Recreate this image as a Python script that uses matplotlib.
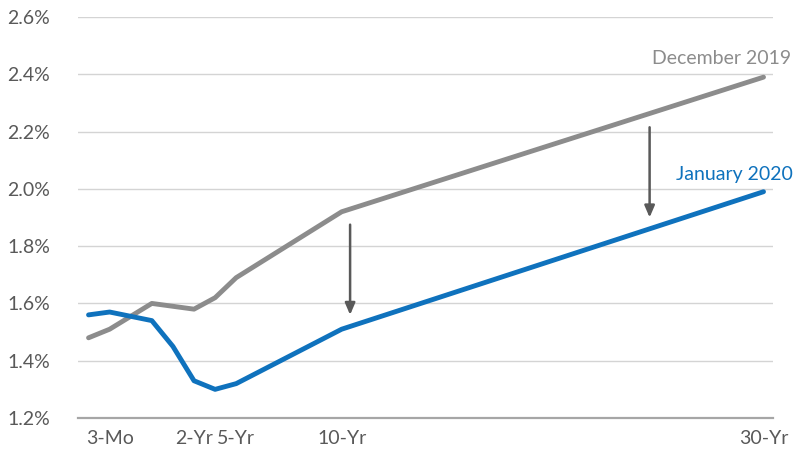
import matplotlib
matplotlib.use("Agg")
import matplotlib.pyplot as plt
from matplotlib.ticker import FuncFormatter

# Data
positions = [0, 1, 3, 4, 5, 6, 7, 12, 32]
dec_2019 = [1.48, 1.51, 1.60, 1.59, 1.58, 1.62, 1.69, 1.92, 2.39]
jan_2020 = [1.56, 1.57, 1.54, 1.45, 1.33, 1.30, 1.32, 1.51, 1.99]
tick_pos = [1, 5, 7, 12, 32]
tick_labels = ["3-Mo", "2-Yr", "5-Yr", "10-Yr", "30-Yr"]
y_ticks = [1.2, 1.4, 1.6, 1.8, 2.0, 2.2, 2.4, 2.6]

plt.rcParams['font.family'] = ['Lato', 'DejaVu Sans']

GRAY = "#8c8c8c"
BLUE = "#0f72bd"
TEXT = "#595959"

fig = plt.figure(figsize=(8.09, 4.51), dpi=100)
ax = fig.add_axes([78/809, 1-418/451, (773-78)/809, (418-17)/451])

ax.plot(positions, dec_2019, color=GRAY, lw=3.5, solid_capstyle='round', solid_joinstyle='round', zorder=3)
ax.plot(positions, jan_2020, color=BLUE, lw=3.5, solid_capstyle='round', solid_joinstyle='round', zorder=3)

ax.set_xlim(-0.5, 32.45)
ax.set_ylim(1.2, 2.6)
ax.set_yticks(y_ticks)
ax.yaxis.set_major_formatter(FuncFormatter(lambda v, p: f"{v:.1f}%"))
ax.set_xticks(tick_pos)
ax.set_xticklabels(tick_labels)
ax.grid(axis='y', color="#d4d4d4", lw=1)
ax.set_axisbelow(True)
for s in ['top', 'right', 'left']:
    ax.spines[s].set_visible(False)
ax.spines['bottom'].set_color("#a6a6a6")
ax.spines['bottom'].set_linewidth(1.6)
ax.tick_params(axis='both', length=0, labelsize=14, colors=TEXT)
ax.tick_params(axis='y', pad=20)
ax.tick_params(axis='x', pad=9)

# Arrows
arrow_kw = dict(arrowstyle='-|>,head_length=0.7,head_width=0.3', color="#595959", lw=1.8, shrinkA=0, shrinkB=0)
ax.annotate("", xy=(12.4, 1.56), xytext=(12.4, 1.875), arrowprops=arrow_kw)
ax.annotate("", xy=(26.6, 1.90), xytext=(26.6, 2.215), arrowprops=arrow_kw)

# Labels
ax.text(33.3, 2.455, "December 2019", color=GRAY, fontsize=14, ha='right', va='center', clip_on=False)
ax.text(33.4, 2.05, "January 2020", color=BLUE, fontsize=14, ha='right', va='center', clip_on=False)

fig.savefig("out.png", dpi=100)
